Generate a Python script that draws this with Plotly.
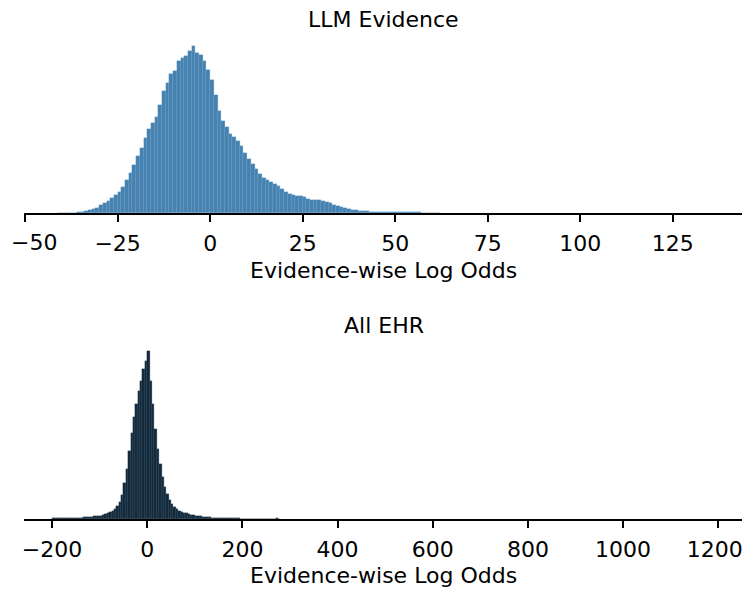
import plotly.graph_objects as go
from plotly.subplots import make_subplots

# ---- Top panel: LLM Evidence (bin width 1, left edges -41..61) ----
llm_bin_left = list(range(-41, 62))
llm_counts = [
    10, 20, 30, 40, 50, 80, 120, 180, 260, 380, 550, 800, 1050, 1200, 1550, 1800,
    2100, 2600, 3300, 4000, 4800, 5700, 6500, 7500, 8400, 9000, 9600, 10800,
    12200, 13000, 13900, 14200, 15200, 15500, 15700, 16200, 16700, 16000, 15800,
    15200, 14300, 13300, 11800, 10200, 9200, 8600, 7900, 7600, 7200, 6700, 6000,
    5400, 4900, 4400, 3900, 3500, 3300, 3100, 2900, 2700, 2400, 2100, 1900, 1800,
    1700, 1700, 1600, 1400, 1300, 1350, 1300, 1200, 1100, 1000, 850, 750, 650,
    550, 450, 350, 280, 220, 180, 160, 150, 140, 130, 130, 120, 120, 110, 100,
    100, 90, 80, 80, 70, 60, 50, 40, 30, 20, 10,
]
llm_width = 1

# ---- Bottom panel: All EHR (bin width 5, left edges -200..275) ----
ehr_bin_left = list(range(-200, 280, 5))
ehr_counts = [
    60, 70, 70, 80, 80, 90, 100, 100, 110, 120, 130, 140, 150, 170, 190, 210,
    230, 260, 290, 320, 350, 420, 500, 600, 700, 850, 1050, 1300, 1700, 2400,
    3600, 5000, 6800, 8600, 10200, 11500, 12800, 13800, 15000, 15800, 16800,
    13800, 11500, 9000, 7000, 5500, 4200, 3200, 2500, 1900, 1500, 1200, 1000,
    850, 750, 650, 570, 500, 440, 390, 340, 300, 260, 230, 200, 180, 160, 140,
    120, 110, 100, 90, 85, 80, 75, 70, 65, 60, 55, 50, 45, 40, 38, 35, 32, 30,
    28, 26, 25, 24, 22, 20, 20, 40, 80, 30,
]
ehr_width = 5

x_ticks_top = [-50, -25, 0, 25, 50, 75, 100, 125]
x_ticklabels_top = ["\u221250", "\u221225", "0", "25", "50", "75", "100", "125"]
x_ticks_bottom = [-200, 0, 200, 400, 600, 800, 1000, 1200]
x_ticklabels_bottom = ["\u2212200", "0", "200", "400", "600", "800", "1000", "1200\u00a0"]

fig = make_subplots(rows=2, cols=1)

fig.add_trace(go.Bar(
    x=[b + llm_width / 2 for b in llm_bin_left], y=llm_counts, width=llm_width,
    marker=dict(color="#4682b0", line=dict(width=0.3, color="#6a9fcc")),
    showlegend=False), row=1, col=1)

fig.add_trace(go.Bar(
    x=[b + ehr_width / 2 for b in ehr_bin_left], y=ehr_counts, width=ehr_width,
    marker=dict(color="#14293a", line=dict(width=0.3, color="#1d3a50")),
    showlegend=False), row=2, col=1)

font_family = "DejaVu Sans"
tick_font = dict(family=font_family, size=22, color="black")
axis_common = dict(
    showgrid=False, zeroline=False, showline=True, linecolor="black", linewidth=1.6,
    ticks="outside", ticklen=7, tickwidth=1.6, tickcolor="black", automargin=False,
    ticklabelstandoff=3, ticklabeloverflow="allow", tickfont=tick_font,
)

# the left-most top tick label sits at the page edge: draw it as a left-anchored text
fig.update_xaxes(range=[-50.3, 144], tickvals=x_ticks_top,
                 ticktext=[""] + x_ticklabels_top[1:],
                 domain=[0, 1], row=1, col=1, **axis_common)
fig.update_xaxes(range=[-259, 1252], tickvals=x_ticks_bottom, ticktext=x_ticklabels_bottom,
                 domain=[0, 1], row=2, col=1, **axis_common)

max_top = max(llm_counts)
max_bot = max(ehr_counts)
fig.update_yaxes(visible=False, range=[0, max_top * 1.05], domain=[0.6478, 0.9485],
                 automargin=False, row=1, col=1)
fig.update_yaxes(visible=False, range=[0, max_bot * 1.05], domain=[0.1220, 0.4244],
                 automargin=False, row=2, col=1)

ann_font = dict(family=font_family, size=22, color="black")
fig.update_layout(
    width=742, height=582,
    margin=dict(l=16, r=7, t=0, b=0, autoexpand=False),
    paper_bgcolor="white", plot_bgcolor="white",
    bargap=0,
    annotations=[
        dict(text="LLM Evidence", x=0.5, y=0.9794, xref="paper", yref="paper",
             showarrow=False, xanchor="center", yanchor="middle", font=ann_font),
        dict(text=x_ticklabels_top[0], x=x_ticks_top[0], y=0.5979, xref="x", yref="paper",
             xshift=-16, showarrow=False, xanchor="left", yanchor="middle",
             font=tick_font),
        dict(text="Evidence-wise Log Odds", x=0.5, y=0.5498, xref="paper", yref="paper",
             showarrow=False, xanchor="center", yanchor="middle", font=ann_font),
        dict(text="All EHR", x=0.5, y=0.4553, xref="paper", yref="paper",
             showarrow=False, xanchor="center", yanchor="middle", font=ann_font),
        dict(text="Evidence-wise Log Odds", x=0.5, y=0.0241, xref="paper", yref="paper",
             showarrow=False, xanchor="center", yanchor="middle", font=ann_font),
    ],
)

fig.write_html("out.html")
